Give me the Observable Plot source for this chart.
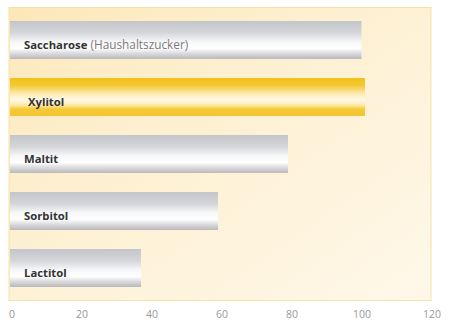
<!DOCTYPE html>
<html>
<head>
<meta charset="utf-8">
<script src="https://cdn.jsdelivr.net/npm/d3@7"></script>
<script src="https://cdn.jsdelivr.net/npm/@observablehq/plot@0.6"></script>
<style>
  html, body { margin: 0; padding: 0; background: #ffffff; }
  #chart { width: 451px; height: 328px; }
</style>
</head>
<body>
<div id="chart"></div>
<script>
// Data
const categories = ["Saccharose", "Xylitol", "Maltit", "Sorbitol", "Lactitol"];
const notes = ["(Haushaltszucker)", "", "", "", ""];
const sweetness = [100, 101, 79, 59, 37];
const xTicks = [0, 20, 40, 60, 80, 100, 120];
const highlight = "Xylitol";

const data = categories.map((c, i) => ({name: c, note: notes[i], value: sweetness[i]}));

const svg = Plot.plot({
  width: 451,
  height: 328,
  marginLeft: 11.5,
  marginRight: 19.5,
  marginTop: 7,
  marginBottom: 28,
  style: {background: "#ffffff", fontFamily: "'Open Sans', sans-serif", color: "#999999", fontSize: "10.5px"},
  x: {domain: [0, 120], ticks: xTicks, tickSize: 0, tickPadding: 10, label: null, tickFormat: d => String(d)},
  y: {domain: categories, paddingInner: 0.34, paddingOuter: 0.24, axis: null},
  color: {type: "identity"},
  marks: [
    Plot.frame({fill: "url(#bgGrad)", stroke: "#f6e1a6", strokeWidth: 1, insetLeft: -3, insetRight: 1}),
    Plot.barX(data, {
      x1: 0, x2: "value", y: "name", insetLeft: -1.5,
      fill: d => d.name === highlight ? "url(#yellowGrad)" : "url(#greyGrad)"
    }),
    Plot.text(data.filter(d => d.name !== highlight), {
      x: 0, y: "name", text: "name", textAnchor: "start", dx: 12, dy: 5,
      fontWeight: "bold", fontSize: 11.3, fill: "#333333"
    }),
    Plot.text(data.filter(d => d.name === highlight), {
      x: 0, y: "name", text: "name", textAnchor: "start", dx: 16, dy: 5,
      fontWeight: "bold", fontSize: 11.3, fill: "#333333"
    }),
    Plot.text(data.filter(d => d.note), {
      x: 0, y: "name", text: "note", textAnchor: "start", dx: 78.5, dy: 5,
      fontSize: 11.8, fill: "#7a7a7a"
    })
  ]
});

const defs = `
<defs>
  <linearGradient id="bgGrad" x1="0" y1="0" x2="1" y2="1">
    <stop offset="0" stop-color="#fde7b8"/>
    <stop offset="0.35" stop-color="#fdefcf"/>
    <stop offset="1" stop-color="#fff8ea"/>
  </linearGradient>
  <linearGradient id="greyGrad" x1="0" y1="0" x2="0" y2="1">
    <stop offset="0" stop-color="#c3c5ca"/>
    <stop offset="0.3" stop-color="#d3d5d9"/>
    <stop offset="0.55" stop-color="#f6f7f8"/>
    <stop offset="0.72" stop-color="#ffffff"/>
    <stop offset="0.85" stop-color="#dcdcdf"/>
    <stop offset="1" stop-color="#b9b9bd"/>
  </linearGradient>
  <linearGradient id="yellowGrad" x1="0" y1="0" x2="0" y2="1">
    <stop offset="0" stop-color="#f2c019"/>
    <stop offset="0.2" stop-color="#f5c935"/>
    <stop offset="0.42" stop-color="#fcebb5"/>
    <stop offset="0.58" stop-color="#fff9e8"/>
    <stop offset="0.72" stop-color="#fde8a2"/>
    <stop offset="0.82" stop-color="#f5c936"/>
    <stop offset="1" stop-color="#f3c433"/>
  </linearGradient>
</defs>`;
svg.insertAdjacentHTML("afterbegin", defs);
document.getElementById("chart").appendChild(svg);
</script>
</body>
</html>
